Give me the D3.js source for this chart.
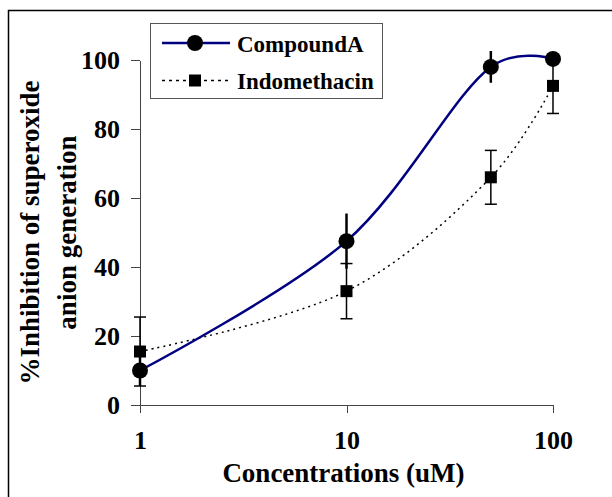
<!DOCTYPE html>
<html>
<head>
<meta charset="utf-8">
<script src="https://cdn.jsdelivr.net/npm/d3@7"></script>
<style>
    body { margin: 0; background: #fff; }
    text { font-family: "Liberation Serif", "Times New Roman", serif; font-weight: bold; fill: #000; }
    .axis path, .axis line { stroke: #444; stroke-width: 1; shape-rendering: crispEdges; }
</style>
</head>
<body>
<div id="graph"></div>
<script>
// concentrations (uM) on a log axis
var concentrations = [ 1, 10, 50, 100 ];

// % inhibition, mean and error
var compoundA       = [ 10, 47.5, 98, 100.3 ];
var compoundAErr    = [ 4.5, 8, 4.6, 0 ];
var indomethacin    = [ 15.5, 33, 66, 92.5 ];
var indomethacinErr = [ 10, 8, 7.8, 8 ];

var xTicks = [ 1, 10, 100 ];
var yTicks = [ 0, 20, 40, 60, 80, 100 ];

var seriesNames = [ 'CompoundA', 'Indomethacin' ];

function ChartApp ()
{
    var margin = { top: 60, right: 59, bottom: 92, left: 140 };
    var width  = 612 - margin.left - margin.right;
    var height = 497 - margin.top  - margin.bottom;

    var root = d3.select ('#graph')
                 .append ('svg')
                 .attr ('width', 612)
                 .attr ('height', 497);

    // outer frame: only top and left edges show in the picture
    root.append ('path')
        .attr ('d', 'M8.5,497 V10.5 H612')
        .style ('fill', 'none')
        .style ('stroke', '#000')
        .style ('stroke-width', 1.5);

    var svg = root.append ('g')
                  .attr ('transform', 'translate(' + margin.left + ',' + margin.top + ')');

    var xScale = d3.scaleLog ()
                   .domain ([ 1, 100 ])
                   .range ([ 0, width ]);

    var yScale = d3.scaleLinear ()
                   .domain ([ 0, 100 ])
                   .range ([ height, 0 ]);

    var xAxis = d3.axisBottom ()
                  .scale (xScale)
                  .tickValues (xTicks)
                  .tickFormat (d3.format ('d'))
                  .tickSizeInner (8)
                  .tickSizeOuter (0)
                  .tickPadding (18);

    var yAxis = d3.axisLeft ()
                  .scale (yScale)
                  .tickValues (yTicks)
                  .tickSizeInner (9)
                  .tickSizeOuter (0)
                  .tickPadding (11);

    svg.append ('g')
       .attr ('class', 'x axis')
       .attr ('transform', 'translate(0,' + height + ')')
       .call (xAxis);

    svg.append ('g')
       .attr ('class', 'y axis')
       .call (yAxis);

    svg.selectAll ('.axis text')
       .style ('font-size', '26px')
       .style ('font-family', '"Liberation Serif", serif')
       .style ('font-weight', 'bold');

    // axis titles
    svg.append ('text')
       .attr ('x', xScale (10) - 3)
       .attr ('y', height + 77)
       .attr ('text-anchor', 'middle')
       .style ('font-size', '27px')
       .text ('Concentrations (uM)');

    var yTitle = svg.append ('text')
                    .attr ('transform', 'translate(' + (-101) + ',' + yScale (50) + ') rotate(-90)')
                    .attr ('text-anchor', 'middle')
                    .style ('font-size', '27px');

    yTitle.append ('tspan').attr ('x', 0).attr ('dy', 0).text ('%Inhibition of superoxide');
    yTitle.append ('tspan').attr ('x', 0).attr ('dy', 37).text ('anion generation');

    // smoothed lines, close to the spreadsheet's smoothing
    var lineFn = d3.line ()
                   .x (function (d) { return xScale (d.x); })
                   .y (function (d) { return yScale (d.y); })
                   .curve (d3.curveCatmullRom.alpha (0.25));

    function Points (values, errs)
    {
        return values.map (function (v, i) { return { x: concentrations[i], y: v, e: errs[i] }; });
    }

    var ptsA = Points (compoundA, compoundAErr);
    var ptsI = Points (indomethacin, indomethacinErr);

    // error bars for Indomethacin (thin, capped)
    var errI = svg.append ('g');
    ptsI.forEach (function (p)
    {
        var cx = xScale (p.x);
        errI.append ('line')
            .attr ('x1', cx).attr ('x2', cx)
            .attr ('y1', yScale (p.y - p.e)).attr ('y2', yScale (p.y + p.e))
            .style ('stroke', '#000').style ('stroke-width', 1.5);
        [ p.y - p.e, p.y + p.e ].forEach (function (v)
        {
            errI.append ('line')
                .attr ('x1', cx - 6).attr ('x2', cx + 6)
                .attr ('y1', yScale (v)).attr ('y2', yScale (v))
                .style ('stroke', '#000').style ('stroke-width', 1.5);
        } );
    } );

    // error bars for CompoundA (thick, no caps)
    var errA = svg.append ('g');
    ptsA.forEach (function (p)
    {
        if (p.e <= 0) return;
        var cx = xScale (p.x);
        errA.append ('line')
            .attr ('x1', cx).attr ('x2', cx)
            .attr ('y1', yScale (p.y - p.e)).attr ('y2', yScale (p.y + p.e))
            .style ('stroke', '#000').style ('stroke-width', 2.5);
    } );

    svg.append ('path')
       .datum (ptsI)
       .attr ('d', lineFn)
       .style ('fill', 'none')
       .style ('stroke', '#000')
       .style ('stroke-width', 1.5)
       .style ('stroke-dasharray', '2,4');

    svg.append ('path')
       .datum (ptsA)
       .attr ('d', lineFn)
       .style ('fill', 'none')
       .style ('stroke', '#000080')
       .style ('stroke-width', 2.5);

    svg.selectAll ('.sq')
       .data (ptsI)
       .enter ()
       .append ('rect')
       .attr ('x', function (d) { return xScale (d.x) - 6; })
       .attr ('y', function (d) { return yScale (d.y) - 6; })
       .attr ('width', 12)
       .attr ('height', 12)
       .style ('fill', '#000');

    svg.selectAll ('.dot')
       .data (ptsA)
       .enter ()
       .append ('circle')
       .attr ('cx', function (d) { return xScale (d.x); })
       .attr ('cy', function (d) { return yScale (d.y); })
       .attr ('r', 8)
       .style ('fill', '#000');

    // legend
    var legend = root.append ('g');

    legend.append ('rect')
          .attr ('x', 150.5).attr ('y', 23.5)
          .attr ('width', 232).attr ('height', 75)
          .style ('fill', '#fff')
          .style ('stroke', '#555')
          .style ('stroke-width', 1);

    legend.append ('line')
          .attr ('x1', 162).attr ('x2', 230).attr ('y1', 43).attr ('y2', 43)
          .style ('stroke', '#000080').style ('stroke-width', 2.5);
    legend.append ('circle')
          .attr ('cx', 195).attr ('cy', 43).attr ('r', 8)
          .style ('fill', '#000');

    legend.append ('line')
          .attr ('x1', 162).attr ('x2', 230).attr ('y1', 80.5).attr ('y2', 80.5)
          .style ('stroke', '#000').style ('stroke-width', 1.5)
          .style ('stroke-dasharray', '3,4');
    legend.append ('rect')
          .attr ('x', 189).attr ('y', 74.5).attr ('width', 12).attr ('height', 12)
          .style ('fill', '#000');

    legend.selectAll ('.ltext')
          .data (seriesNames)
          .enter ()
          .append ('text')
          .attr ('x', 237)
          .attr ('y', function (d, i) { return 52 + i * 37; })
          .style ('font-size', '23px')
          .text (function (d) { return d; });
}

ChartApp ();
</script>
</body>
</html>
